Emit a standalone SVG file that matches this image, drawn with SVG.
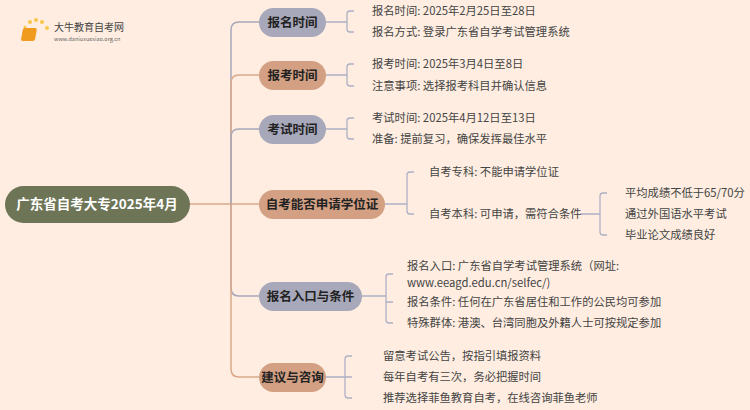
<svg xmlns="http://www.w3.org/2000/svg" width="750" height="410" viewBox="0 0 750 410">
<style>
text{font-family:"Noto Sans CJK SC","Noto Sans",sans-serif}
.g{fill:#A8A8BB}.o{fill:#D3A083}
.bt{font-size:12.5px;font-weight:bold;fill:#222;text-anchor:middle}
.lf{font-size:11.3px;fill:#444}
.cg{fill:none;stroke:#A8A8BB;stroke-width:1.5}
.co{fill:none;stroke:#D9A98A;stroke-width:1.5}
.br{fill:none;stroke:#AEB0C6;stroke-width:1.3}
</style>
<rect width="750" height="410" fill="#FEEDE0"/>
<g id="logo">
<circle cx="30" cy="22" r="2" fill="#F8C84A"/><circle cx="36" cy="20" r="2" fill="#F8C84A"/><circle cx="42" cy="22" r="2" fill="#F8C84A"/><circle cx="25" cy="27" r="1.5" fill="#F8C84A"/><circle cx="47" cy="28" r="2" fill="#F8C84A"/>
<rect x="28" y="28" width="14" height="13" rx="2" fill="#F09A1E" transform="skewX(-10)"/>
<text x="54" y="31" font-size="10" fill="#444">大牛教育自考网</text>
<text x="54" y="41" font-size="5.5" fill="#666">www.daniuxuexiao.org.cn</text>
</g>
<g id="connectors">
<path class="co" d="M190 204H231"/>
<path class="cg" d="M231 204V30Q231 22 239 22H259"/>
<path class="co" d="M231 204V83Q231 75 239 75H259"/>
<path class="cg" d="M231 204V137Q231 129 239 129H259"/>
<path class="co" d="M231 204H259"/>
<path class="cg" d="M231 204V288Q231 296 239 296H259"/>
<path class="co" d="M231 204V369Q231 377 239 377H259"/>
<path class="br" d="M326 22H347M354 11H350Q347 11 347 14V29Q347 32 350 32H354"/>
<path class="br" d="M326 75H347M354 64H350Q347 64 347 67V83Q347 86 350 86H354"/>
<path class="br" d="M326 129H347M354 118H350Q347 118 347 121V136Q347 139 350 139H354"/>
<path class="br" d="M385 204H407M414 172H410Q407 172 407 175V211Q407 214 410 214H414"/>
<path class="br" d="M580 214H600M607 193H603Q600 193 600 196V232Q600 235 603 235H607"/>
<path class="br" d="M362 296H386M393 274H389Q386 274 386 277V320Q386 323 389 323H393M386 302H393"/>
<path class="br" d="M326 377H345M352 356H348Q345 356 345 359V395Q345 398 348 398H352M345 377H352"/>
</g>
<g id="root"><rect x="5" y="186" width="185" height="37" rx="18.5" fill="#6E7557"/><text x="97" y="209" font-size="13.5" font-weight="bold" fill="#fff" text-anchor="middle">广东省自考大专2025年4月</text></g>
<g id="n1"><rect class="g" x="259" y="8" width="67" height="29" rx="14.5"/><text class="bt" x="292.5" y="27">报名时间</text></g>
<g id="n2"><rect class="o" x="259" y="61" width="67" height="29" rx="14.5"/><text class="bt" x="292.5" y="80">报考时间</text></g>
<g id="n3"><rect class="g" x="259" y="115" width="67" height="29" rx="14.5"/><text class="bt" x="292.5" y="134">考试时间</text></g>
<g id="n4"><rect class="o" x="259" y="190" width="126" height="29" rx="14.5"/><text class="bt" x="322" y="209">自考能否申请学位证</text></g>
<g id="n5"><rect class="g" x="259" y="282" width="103" height="29" rx="14.5"/><text class="bt" x="310.5" y="301">报名入口与条件</text></g>
<g id="n6"><rect class="o" x="259" y="363" width="67" height="29" rx="14.5"/><text class="bt" x="292.5" y="382">建议与咨询</text></g>
<g id="leaves">
<text class="lf" x="372" y="15">报名时间: 2025年2月25日至28日</text>
<text class="lf" x="372" y="36">报名方式: 登录广东省自学考试管理系统</text>
<text class="lf" x="372" y="68">报考时间: 2025年3月4日至8日</text>
<text class="lf" x="372" y="90">注意事项: 选择报考科目并确认信息</text>
<text class="lf" x="372" y="122">考试时间: 2025年4月12日至13日</text>
<text class="lf" x="372" y="143">准备: 提前复习，确保发挥最佳水平</text>
<text class="lf" x="429" y="176">自考专科: 不能申请学位证</text>
<text class="lf" x="429" y="218">自考本科: 可申请，需符合条件</text>
<text class="lf" x="625" y="197">平均成绩不低于65/70分</text>
<text class="lf" x="625" y="218">通过外国语水平考试</text>
<text class="lf" x="625" y="239">毕业论文成绩良好</text>
<text class="lf" x="407" y="270">报名入口: 广东省自学考试管理系统（网址:</text>
<text class="lf" x="407" y="287">www.eeagd.edu.cn/selfec/)</text>
<text class="lf" x="407" y="306">报名条件: 任何在广东省居住和工作的公民均可参加</text>
<text class="lf" x="407" y="327">特殊群体: 港澳、台湾同胞及外籍人士可按规定参加</text>
<text class="lf" x="383" y="360">留意考试公告，按指引填报资料</text>
<text class="lf" x="383" y="381">每年自考有三次，务必把握时间</text>
<text class="lf" x="383" y="402">推荐选择菲鱼教育自考，在线咨询菲鱼老师</text>
</g>
</svg>
